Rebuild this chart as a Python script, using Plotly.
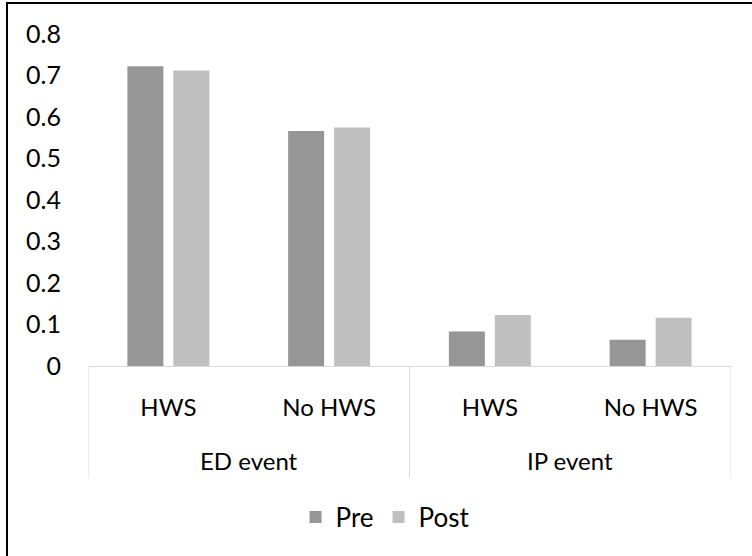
import plotly.graph_objects as go

groups = ["ED event", "ED event", "IP event", "IP event"]
subs = ["HWS", "No HWS", "HWS", "No HWS"]
pre = [0.722, 0.566, 0.083, 0.063]
post = [0.712, 0.575, 0.123, 0.116]
yticks = [0, 0.1, 0.2, 0.3, 0.4, 0.5, 0.6, 0.7, 0.8]
ytick_text = ["0", "0.1", "0.2", "0.3", "0.4", "0.5", "0.6", "0.7", "0.8"]

FONT = "Lato"
AXIS_GREY = "#D9D9D9"

idx = list(range(len(subs)))

fig = go.Figure()
fig.add_trace(go.Bar(name="Pre", x=idx, y=pre,
                     marker=dict(color="#969696", line=dict(width=0))))
fig.add_trace(go.Bar(name="Post", x=idx, y=post,
                     marker=dict(color="#BFBFBF", line=dict(width=0))))

fig.update_layout(
    width=752, height=556,
    margin=dict(l=88, r=21, t=34, b=190),
    paper_bgcolor="white", plot_bgcolor="white",
    font=dict(family=FONT, size=24, color="black"),
    barmode="group", bargap=0.428, bargroupgap=0.217,
    legend=dict(orientation="h", x=0.462, xanchor="center", y=-0.455, yanchor="middle",
                font=dict(size=26)),
    showlegend=True,
)
fig.update_xaxes(range=[-0.5, len(subs) - 0.5], tickvals=idx, ticktext=subs,
                 showline=True, linecolor=AXIS_GREY, linewidth=1,
                 showgrid=False, zeroline=False, ticks="", ticklabelstandoff=20,
                 tickfont=dict(size=24), automargin=False)
fig.update_yaxes(range=[0, 0.8], tickvals=yticks, ticktext=ytick_text, showgrid=False,
                 zeroline=False, showline=False, ticks="", ticklabelstandoff=26,
                 tickfont=dict(size=25), automargin=False)

# group labels and dividers of the two-level category axis
unique_groups = list(dict.fromkeys(groups))
for g in unique_groups:
    members = [i for i, gg in enumerate(groups) if gg == g]
    center = sum(members) / len(members)
    fig.add_annotation(x=center, xref="x", y=(366 - 460) / 332, yref="paper",
                       text=g, showarrow=False, font=dict(size=24), yanchor="middle")
boundaries = [-0.5] + [i + 0.5 for i in range(len(groups) - 1) if groups[i] != groups[i + 1]] + [len(groups) - 0.5]
for b in boundaries:
    fig.add_shape(type="line", xref="x", yref="paper", x0=b, x1=b,
                  y0=0, y1=(366 - 478) / 332, line=dict(color=AXIS_GREY, width=1))

# outer chart border (extends past the right and bottom edges)
fig.add_shape(type="rect", xref="paper", yref="paper",
              x0=(7 - 88) / 643, x1=(760 - 88) / 643,
              y0=(366 - 565) / 332, y1=(366 - 3) / 332,
              line=dict(color="black", width=2), fillcolor="rgba(0,0,0,0)")

fig.write_html("out.html", config={"displayModeBar": False},
               post_script="document.body.style.margin='0';")
